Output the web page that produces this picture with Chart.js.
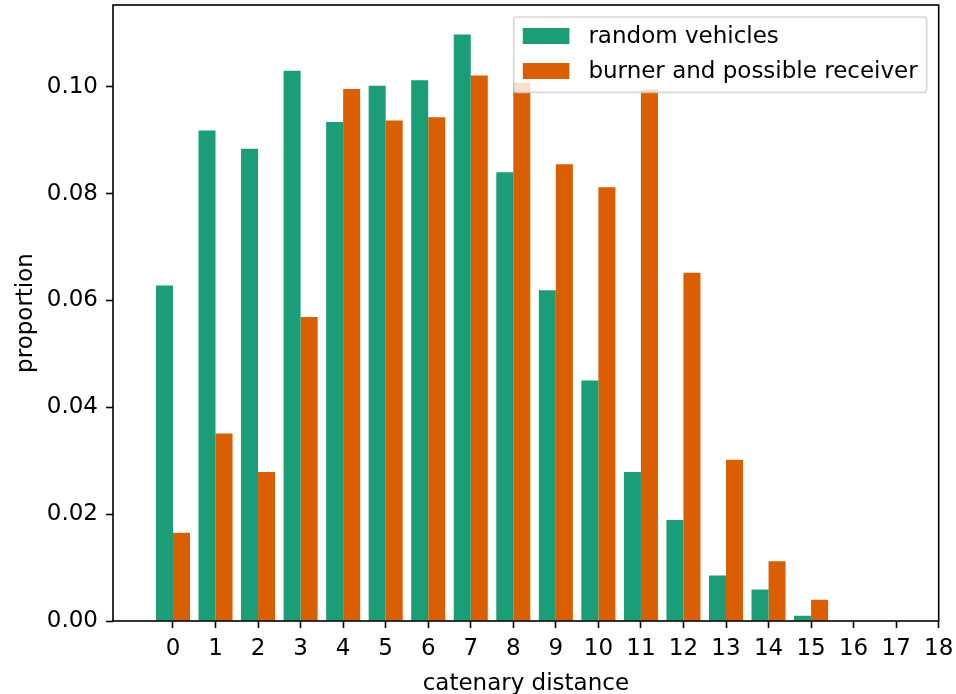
<!DOCTYPE html>
<html><head><meta charset="utf-8">
<script src="https://cdn.jsdelivr.net/npm/chart.js@4/dist/chart.umd.min.js"></script>
<style>html,body{margin:0;padding:0;background:#fff}#wrap{width:956px;height:694px}</style>
</head><body><div id="wrap"><canvas id="c" width="956" height="694"></canvas></div>
<script>
const categories = [0,1,2,3,4,5,6,7,8,9,10,11,12,13,14,15];
const randomVehicles = [0.0628,0.0918,0.0884,0.1030,0.0934,0.1002,0.1012,0.1098,0.0840,0.0619,0.0450,0.0279,0.0189,0.0085,0.0059,0.0010];
const burnerReceiver = [0.0165,0.0351,0.0279,0.0569,0.0996,0.0937,0.0943,0.1021,0.1008,0.0855,0.0812,0.0995,0.0652,0.0302,0.0112,0.0040];
const seriesNames = ['random vehicles','burner and possible receiver'];
const xTickValues = [0,1,2,3,4,5,6,7,8,9,10,11,12,13,14,15,16,17,18];
const yTickValues = [0,0.02,0.04,0.06,0.08,0.10];
const xTitle = 'catenary distance';
const yTitle = 'proportion';

const FONT = '"DejaVu Sans", sans-serif';
const FS = 23;

const framePlugin = {
  id: 'frame',
  afterDraw(chart) {
    const {ctx, chartArea: a} = chart;
    ctx.save();
    ctx.strokeStyle = '#000';
    ctx.lineWidth = 1.6;
    ctx.strokeRect(a.left, a.top, a.right - a.left, a.bottom - a.top);
    ctx.font = FS + 'px ' + FONT;
    const ds = chart.data.datasets;
    let maxW = 0;
    ds.forEach(d => { maxW = Math.max(maxW, ctx.measureText(d.label).width); });
    const padL = 9, swW = 46.6, swH = 16, gap = 19, padR = 9, rowH = 35;
    const boxW = padL + swW + gap + maxW + padR;
    const boxH = 75.4;
    const bx = a.right - 12 - boxW, by = a.top + 12;
    const r = 3;
    ctx.beginPath();
    ctx.moveTo(bx + r, by);
    ctx.lineTo(bx + boxW - r, by);
    ctx.arcTo(bx + boxW, by, bx + boxW, by + r, r);
    ctx.lineTo(bx + boxW, by + boxH - r);
    ctx.arcTo(bx + boxW, by + boxH, bx + boxW - r, by + boxH, r);
    ctx.lineTo(bx + r, by + boxH);
    ctx.arcTo(bx, by + boxH, bx, by + boxH - r, r);
    ctx.lineTo(bx, by + r);
    ctx.arcTo(bx, by, bx + r, by, r);
    ctx.closePath();
    ctx.fillStyle = 'rgba(255,255,255,0.8)';
    ctx.fill();
    ctx.strokeStyle = 'rgba(204,204,204,0.8)';
    ctx.lineWidth = 1.6;
    ctx.stroke();
    ds.forEach((d, i) => {
      const cy = by + 19 + i * rowH;
      ctx.fillStyle = d.backgroundColor;
      ctx.fillRect(bx + padL, cy - swH / 2, swW, swH);
      ctx.fillStyle = '#000';
      ctx.textBaseline = 'middle';
      ctx.textAlign = 'left';
      ctx.fillText(d.label, bx + padL + swW + gap, cy + 1);
    });
    ctx.restore();
  }
};

new Chart(document.getElementById('c'), {
  type: 'bar',
  data: {
    datasets: [
      { label: seriesNames[0], data: categories.map((c, i) => ({x: c, y: randomVehicles[i]})), backgroundColor: '#1b9e77', borderWidth: 0 },
      { label: seriesNames[1], data: categories.map((c, i) => ({x: c, y: burnerReceiver[i]})), backgroundColor: '#d95f02', borderWidth: 0 }
    ]
  },
  options: {
    responsive: false,
    devicePixelRatio: 1,
    animation: false,
    layout: { padding: { left: 0, top: 5, right: 17.3, bottom: 0 } },
    plugins: { legend: { display: false }, tooltip: { enabled: false } },
    datasets: { bar: { categoryPercentage: 0.8, barPercentage: 1.0 } },
    scales: {
      x: {
        type: 'linear', min: -1.41, max: 18, offset: false,
        afterBuildTicks: s => { s.ticks = xTickValues.map(v => ({value: v})); },
        afterFit: s => { s.height = 73; s.paddingLeft = 0; s.paddingRight = 0; },
        grid: { display: true, offset: false, drawOnChartArea: false, drawTicks: true, tickLength: 7, tickWidth: 1.6, tickColor: '#000' },
        border: { display: false },
        ticks: { autoSkip: false, maxRotation: 0, padding: 7, color: '#000', font: { family: FONT, size: FS }, callback: v => String(v) },
        title: { display: true, text: xTitle, color: '#000', font: { family: FONT, size: FS }, padding: { top: -4, bottom: -4 } }
      },
      y: {
        type: 'linear', min: 0, max: 0.1153,
        afterBuildTicks: s => { s.ticks = yTickValues.map(v => ({value: v})); },
        afterFit: s => { s.width = 113; s.paddingTop = 0; s.paddingBottom = 0; },
        grid: { display: true, drawOnChartArea: false, drawTicks: true, tickLength: 7, tickWidth: 1.6, tickColor: '#000' },
        border: { display: false },
        ticks: { padding: 8, color: '#000', font: { family: FONT, size: FS }, callback: v => Number(v).toFixed(2) },
        title: { display: true, text: yTitle, color: '#000', font: { family: FONT, size: FS }, padding: { top: 12, bottom: 0 } }
      }
    }
  },
  plugins: [framePlugin]
});
</script>
</body></html>
